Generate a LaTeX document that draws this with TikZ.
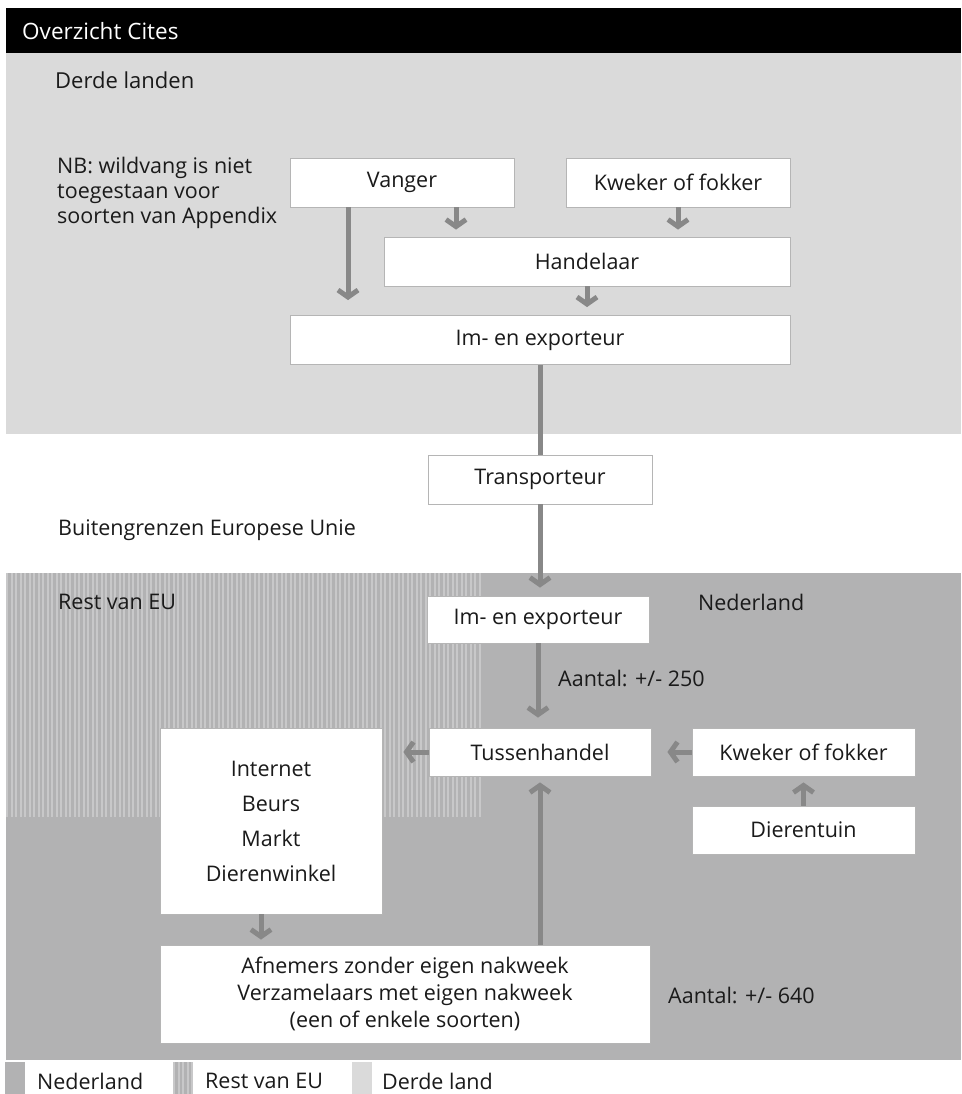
\documentclass[tikz,border=0pt]{standalone}
\usepackage{fontspec}
\setmainfont{Open Sans}
\usetikzlibrary{arrows.meta}
\definecolor{nl}{HTML}{B2B2B3}
\definecolor{eu}{HTML}{C8C8C9}
\definecolor{dl}{HTML}{DADADA}
\definecolor{arrc}{HTML}{888888}
\definecolor{txt}{HTML}{1A1A1A}
\definecolor{bord}{HTML}{B5B5B5}
\begin{document}
\begin{tikzpicture}[x=1pt,y=-1pt,
  box/.style={draw=bord, line width=0.8pt, fill=white, minimum height=49pt, inner sep=0pt, text=txt, font=\fontsize{21.5}{25}\selectfont, align=center},
  lbl/.style={anchor=west, inner sep=0pt, text=txt, font=\fontsize{21.5}{25}\selectfont, align=left},
  conn/.style={draw=arrc, line width=5pt, -{Straight Barb[length=7pt,width=20pt]}},
  plainline/.style={draw=arrc, line width=5pt},
]
\useasboundingbox (0,0) rectangle (961,1094);
% regions
\fill[black] (6,8) rectangle (961,53);
\fill[dl] (6,53) rectangle (961,434);
\fill[nl] (6,573) rectangle (961,1060);
\foreach \x in {6,10.5,...,482} \fill[eu] (\x,573) rectangle ++(2.2,244);
% header and labels
\node[lbl, text=white, font=\fontsize{22.5}{26}\selectfont] (title) at (22,31) {Overzicht Cites};
\node[lbl, font=\fontsize{22}{26}\selectfont] (derde) at (55,80) {Derde landen};
\node[lbl] (nb) at (57,193) {NB: wildvang is niet\\toegestaan voor\\soorten van Appendix};
\node[lbl] (buiten) at (58,530) {Buitengrenzen Europese Unie};
\node[lbl] (rest) at (58,602) {Rest van EU};
\node[lbl] (nedl) at (698,602) {Nederland};
% boxes
\node[box, minimum width=224pt] (vanger) at (402,182.5) {Vanger};
\node[box, minimum width=224pt] (kwektop) at (678,182.5) {Kweker of fokker};
\node[box, minimum width=406pt] (handel) at (587,261.5) {Handelaar};
\node[box, minimum width=500pt] (imtop) at (540,340) {Im- en exporteur};
\node[box, minimum width=224pt] (transp) at (540,479.5) {Transporteur};
\node[box, minimum width=222pt, minimum height=47pt] (imbot) at (538,619.5) {Im- en exporteur};
\node[box, minimum width=222pt, minimum height=48pt] (tussen) at (540,752) {Tussenhandel};
\node[box, minimum width=222pt, minimum height=186pt, font=\fontsize{21.5}{35}\selectfont] (internet) at (271,821) {Internet\\Beurs\\Markt\\Dierenwinkel};
\node[box, minimum width=223pt, minimum height=48pt] (kwekbot) at (803.5,752) {Kweker of fokker};
\node[box, minimum width=223pt, minimum height=48pt] (dier) at (803.5,830) {Dierentuin};
\node[box, minimum width=490pt, minimum height=98pt, font=\fontsize{21.5}{27}\selectfont] (afn) at (405,994) {Afnemers zonder eigen nakweek\\Verzamelaars met eigen nakweek\\(een of enkele soorten)};
\node[lbl] (a250) at (558,678) {Aantal: +/- 250};
\node[lbl] (a640) at (668,995) {Aantal: +/- 640};
% connectors
\draw[conn, shorten >=15pt] ([xshift=-54pt]vanger.south) -- ([xshift=-192pt]imtop.north);
\draw[conn, shorten >=7pt] ([xshift=54pt]vanger.south) -- ([xshift=-131pt]handel.north);
\draw[conn, shorten >=7pt] (kwektop.south) -- (kwektop.south |- handel.north);
\draw[conn, shorten >=8pt] (handel.south) -- (handel.south |- imtop.north);
\draw[plainline] (imtop.south) -- (transp.north);
\draw[conn, shorten >=8pt] (transp.south) -- (transp.south |- imbot.north);
\draw[conn, shorten >=10pt] (imbot.south) -- (imbot.south |- tussen.north);
\draw[conn, shorten >=21pt] (tussen.west) -- (tussen.west -| internet.east);
\draw[conn, shorten >=16pt] (kwekbot.west) -- (tussen.east);
\draw[conn, shorten >=6pt] (dier.north) -- (kwekbot.south);
\draw[conn, shorten >=5pt] ([xshift=-10pt]internet.south) -- ([xshift=-10pt]internet.south |- afn.north);
\draw[conn, shorten >=6pt] (afn.north -| tussen.south) -- (tussen.south);
% legend
\fill[nl] (5,1062) rectangle (25,1094);
\node[lbl] (lnl) at (37,1081) {Nederland};
\fill[nl] (173,1062) rectangle (193,1094);
\foreach \x in {173,177.5,182,186.5,191} \fill[eu] (\x,1062) rectangle ++(2,32);
\node[lbl] (leu) at (205,1081) {Rest van EU};
\fill[dl] (352,1062) rectangle (372,1094);
\node[lbl] (ldl) at (382,1081) {Derde land};
\end{tikzpicture}
\end{document}
